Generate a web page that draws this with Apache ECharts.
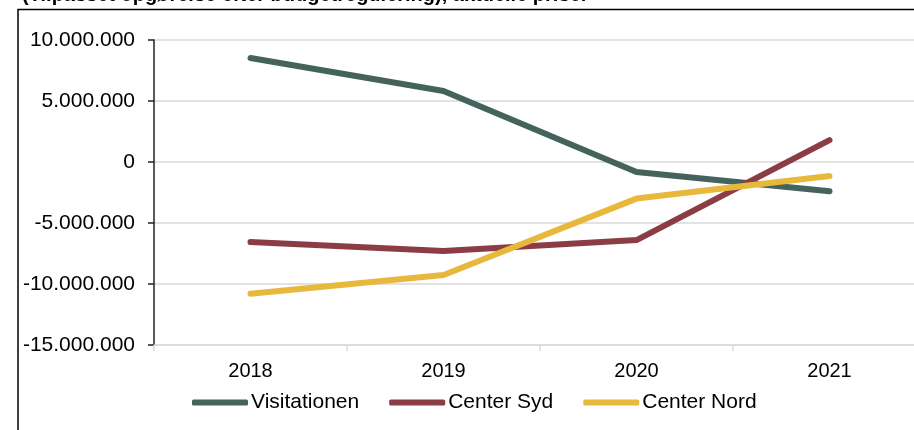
<!DOCTYPE html>
<html>
<head>
<meta charset="utf-8">
<script src="https://cdn.jsdelivr.net/npm/echarts@6/dist/echarts.min.js"></script>
<style>
  html, body { margin: 0; padding: 0; background: #fff; }
  #chart { width: 914px; height: 430px; }
</style>
</head>
<body>
<div id="chart"></div>
<script>
// data
const years = ["2018", "2019", "2020", "2021"];
const visitationen = [8520000, 5820000, -820000, -2400000];
const centerSyd = [-6560000, -7300000, -6400000, 1800000];
const centerNord = [-10800000, -9260000, -3000000, -1150000];
const yTicks = { min: -15000000, max: 10000000, interval: 5000000 };
const titleText = "(Tilpasset opgørelse efter budgetregulering), aktuelle priser";

const font = "Liberation Sans, Arial, sans-serif";

function danish(v) {
  const s = Math.abs(v).toString().replace(/\B(?=(\d{3})+(?!\d))/g, ".");
  return (v < 0 ? "-" : "") + s;
}

function lineSeries(name, data, color) {
  return {
    name: name,
    type: "line",
    data: data,
    showSymbol: false,
    symbol: "none",
    lineStyle: { color: color, width: 6, cap: "round", join: "round" },
    itemStyle: { color: color },
  };
}

const dom = echarts.init(document.getElementById("chart"));
let option = {
  animation: false,
  backgroundColor: "#fff",
  graphic: [
    {
      type: "rect",
      shape: { x: 18, y: 9.5, width: 1000, height: 1000 },
      style: { fill: "none", stroke: "#000", lineWidth: 1.5 },
      silent: true,
    },
    {
      type: "text",
      left: 22,
      top: -15,
      style: {
        text: titleText,
        font: "bold 20px " + font,
        fill: "#000",
      },
      silent: true,
    },
  ],
  grid: {
    left: 154,
    width: 772,
    top: 40,
    bottom: 85,
    outerBoundsMode: "none",
  },
  legend: {
    left: 187,
    top: 387,
    itemWidth: 56,
    itemHeight: 6,
    itemGap: 30,
    icon: "roundRect",
    textStyle: { fontFamily: font, fontSize: 21, color: "#000", padding: [0, 0, 0, -2] },
    data: ["Visitationen", "Center Syd", "Center Nord"],
  },
  xAxis: {
    type: "category",
    data: years,
    boundaryGap: true,
    axisLine: { onZero: false, lineStyle: { color: "#d9d9d9", width: 1.5 } },
    axisTick: { show: true, length: 6, lineStyle: { color: "#d9d9d9", width: 1.5 } },
    axisLabel: { fontFamily: font, fontSize: 20, color: "#000", margin: 16 },
    splitLine: { show: false },
  },
  yAxis: {
    type: "value",
    min: yTicks.min,
    max: yTicks.max,
    interval: yTicks.interval,
    axisLine: { show: true, lineStyle: { color: "#222", width: 1.5 } },
    axisTick: { show: true, length: 6, lineStyle: { color: "#222", width: 1.5 } },
    axisLabel: {
      fontFamily: font,
      fontSize: 21,
      color: "#000",
      margin: 19,
      formatter: danish,
    },
    splitLine: { lineStyle: { color: "#d9d9d9", width: 1.5 } },
  },
  series: [
    lineSeries("Visitationen", visitationen, "#43635c"),
    lineSeries("Center Syd", centerSyd, "#8b3d45"),
    lineSeries("Center Nord", centerNord, "#e7b83c"),
  ],
};
dom.setOption(option);
</script>
</body>
</html>
